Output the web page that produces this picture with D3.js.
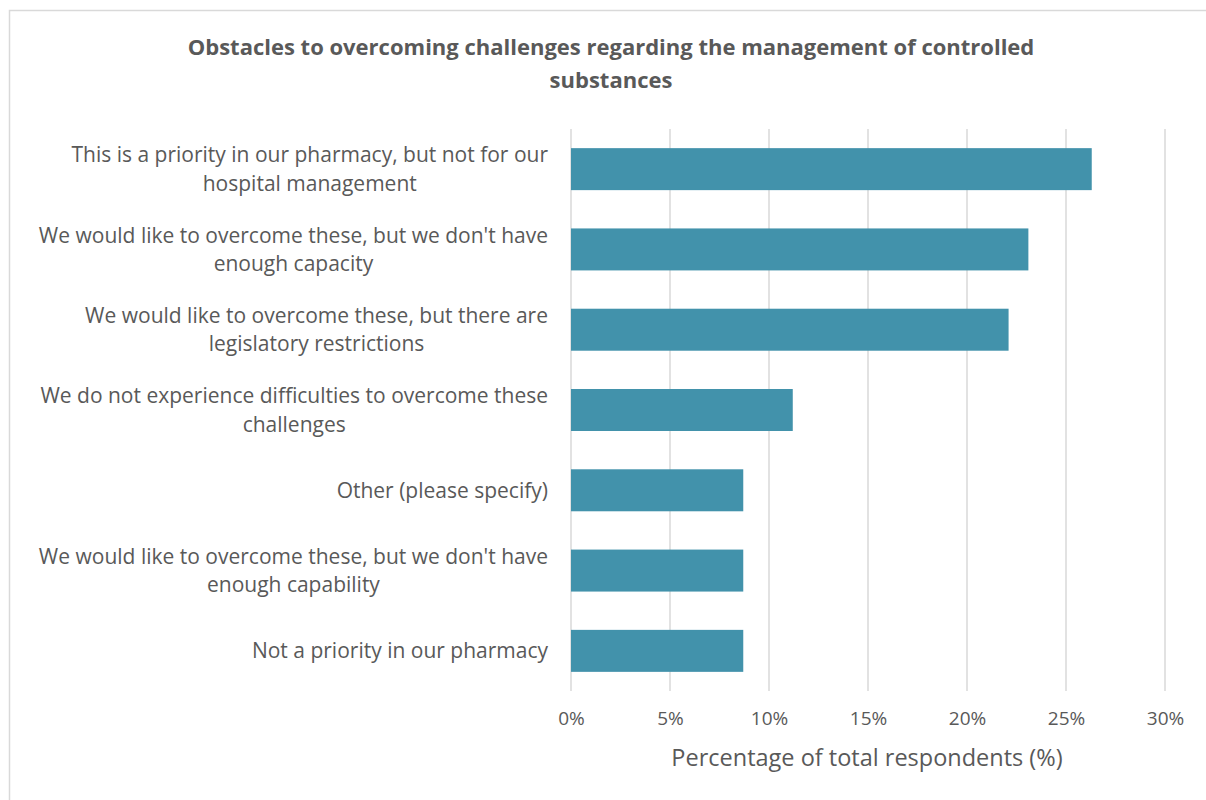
<!DOCTYPE html>
<html>
<head>
<meta charset="utf-8">
<script src="https://cdn.jsdelivr.net/npm/d3@7"></script>
<style>
  html, body { margin: 0; padding: 0; background: #fff; }
  svg { display: block; }
  text { font-family: "Open Sans", Lato, sans-serif; fill: #595959; }
</style>
</head>
<body>
<svg id="chart" width="1206" height="800"></svg>
<script>
// Survey answers, top to bottom, each split into its display lines
const categories = [
  "This is a priority in our pharmacy, but not for our|hospital management",
  "We would like to overcome these, but we don't have|enough capacity",
  "We would like to overcome these, but there are|legislatory restrictions",
  "We do not experience difficulties to overcome these|challenges",
  "Other (please specify)",
  "We would like to overcome these, but we don't have|enough capability",
  "Not a priority in our pharmacy"
];
const values = [26.3, 23.1, 22.1, 11.2, 8.7, 8.7, 8.7];
const tickValues = [0, 5, 10, 15, 20, 25, 30];
const titleLines = [
  "Obstacles to overcoming challenges regarding the management of controlled",
  "substances"
];
const axisTitle = "Percentage of total respondents (%)";

const svg = d3.select("#chart");

// Outer chart frame
svg.append("rect")
  .attr("x", 9.5).attr("y", 10.5)
  .attr("width", 1300).attr("height", 900)
  .attr("fill", "none").attr("stroke", "#d9d9d9").attr("stroke-width", 1.5);

const plot = { left: 571, right: 1165, top: 129, bottom: 691 };

const x = d3.scaleLinear().domain([0, 30]).range([plot.left, plot.right]);
const y = d3.scaleBand().domain(categories).range([plot.top, plot.bottom]).paddingInner(0.477).paddingOuter(0.2385);

// Vertical gridlines
svg.append("g").selectAll("line").data(tickValues).join("line")
  .attr("x1", d => x(d)).attr("x2", d => x(d))
  .attr("y1", plot.top).attr("y2", plot.bottom)
  .attr("stroke", "#d9d9d9").attr("stroke-width", 1.5);

// Bars
svg.append("g").selectAll("rect").data(values).join("rect")
  .attr("x", x(0))
  .attr("y", (d, i) => y(categories[i]))
  .attr("width", d => x(d) - x(0))
  .attr("height", y.bandwidth())
  .attr("fill", "#4292ab");

// X axis tick labels
const xAxis = d3.axisBottom(x).tickValues(tickValues).tickFormat(d => d + "%").tickSize(0).tickPadding(0);
const gx = svg.append("g").attr("transform", `translate(0,${plot.bottom})`).call(xAxis);
gx.select(".domain").remove();
gx.selectAll("text")
  .attr("y", 34).attr("dy", null)
  .style("font-size", "19px").attr("fill", "#595959")
  .style("font-family", "'Open Sans', Lato, sans-serif");

// Category labels: block right-aligned at the axis, lines centred within the block
const labelRight = 548;
const lineH = 28.5;
categories.forEach((c, i) => {
  const lines = c.split("|");
  const cy = y(c) + y.bandwidth() / 2;
  const g = svg.append("g");
  const texts = lines.map((ln, k) =>
    g.append("text")
      .attr("y", cy + (k - (lines.length - 1) / 2) * lineH)
      .attr("dy", "0.35em")
      .attr("text-anchor", "middle")
      .style("font-size", "21px")
      .text(ln)
  );
  const w = d3.max(texts, t => t.node().getComputedTextLength());
  texts.forEach(t => t.attr("x", labelRight - w / 2));
});

// Axis title
svg.append("text")
  .attr("x", 867).attr("y", 758).attr("dy", "0.35em")
  .attr("text-anchor", "middle")
  .style("font-size", "23.5px")
  .text(axisTitle);

// Chart title
titleLines.forEach((t, k) => {
  svg.append("text")
    .attr("x", 611).attr("y", 47 + k * 33).attr("dy", "0.35em")
    .attr("text-anchor", "middle")
    .style("font-size", "22px").style("font-weight", "bold")
    .text(t);
});
</script>
</body>
</html>
